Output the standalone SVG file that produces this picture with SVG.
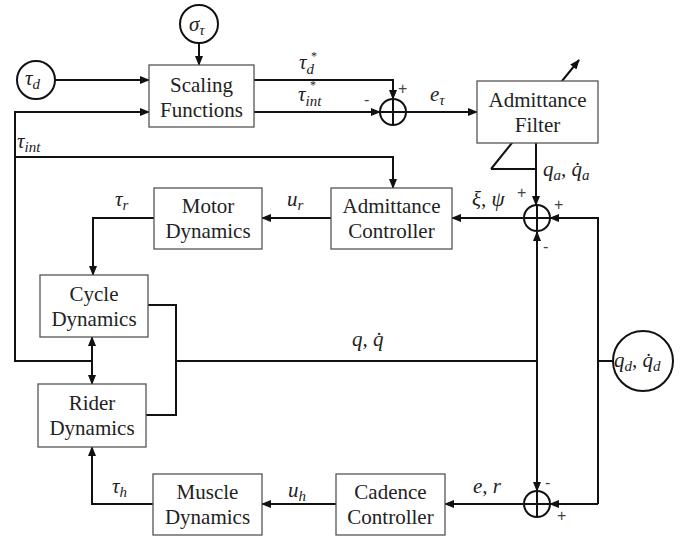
<svg xmlns="http://www.w3.org/2000/svg" width="699" height="540" viewBox="0 0 699 540">
<defs>
<marker id="ah" markerWidth="10" markerHeight="8" refX="9" refY="4" orient="auto" markerUnits="userSpaceOnUse">
<path d="M0,0 L10,4 L0,8 Z" fill="#111"/>
</marker>
<style>
.box{fill:#fff;stroke:#555;stroke-width:1.3}
.lbl{font-family:"Liberation Serif","Times New Roman",serif;font-size:21px;fill:#222;text-anchor:middle}
.m{font-family:"Liberation Serif","Times New Roman",serif;font-style:italic;font-size:21px;fill:#222}
.s{font-size:15px}
.st{font-family:"Liberation Serif","Times New Roman",serif;font-size:12px;fill:#222}
.pm{font-family:"Liberation Sans",Arial,sans-serif;font-size:16px;fill:#444}
.ln{fill:none;stroke:#111;stroke-width:2}
.arr{fill:none;stroke:#111;stroke-width:2;marker-end:url(#ah)}
.circ{fill:#fff;stroke:#111;stroke-width:2}
</style>
</defs>
<rect width="699" height="540" fill="#fff"/>
<g id="connectors">
<path class="arr" d="M199,43 L199,65"/>
<path class="arr" d="M55,80 L149,80"/>
<path class="arr" d="M254,80 L393,80 L393,99"/>
<path class="arr" d="M254,112 L380,112"/>
<path class="arr" d="M406,112 L477,112"/>
<path class="arr" d="M491,169 L579,60"/>
<path class="ln" d="M491,169 L536,169"/>
<path class="arr" d="M536,143 L536,205"/>
<path class="arr" d="M523,218 L452,218"/>
<path class="arr" d="M598,504 L598,218 L550,218"/>
<path class="ln" d="M598,361 L613,361"/>
<path class="arr" d="M598,504 L550,504"/>
<path class="arr" d="M537,361 L537,232"/>
<path class="arr" d="M537,361 L537,491"/>
<path class="ln" d="M176,361 L537,361"/>
<path class="ln" d="M148,305 L176,305 L176,415 L146,415"/>
<path class="arr" d="M92,361 L92,337"/>
<path class="arr" d="M92,361 L92,384"/>
<path class="arr" d="M92,361 L15,361 L15,112 L149,112"/>
<path class="arr" d="M15,157 L393,157 L393,188"/>
<path class="arr" d="M331,218 L262,218"/>
<path class="arr" d="M154,218 L93,218 L93,275"/>
<path class="arr" d="M523,504 L445,504"/>
<path class="arr" d="M336,504 L262,504"/>
<path class="arr" d="M153,504 L92,504 L92,447"/>
</g>
<g id="sigma">
<circle class="circ" cx="199" cy="24" r="19"/>
<text class="m" x="189" y="31">σ<tspan class="s" dy="4">τ</tspan></text>
</g>
<g id="tau_d">
<circle class="circ" cx="36" cy="80" r="19"/>
<text class="m" x="25" y="85">τ<tspan class="s" dy="4">d</tspan></text>
</g>
<g id="scaling">
<rect class="box" x="149" y="65" width="105" height="62"/>
<text class="lbl" x="201.5" y="92">Scaling</text>
<text class="lbl" x="201.5" y="117">Functions</text>
</g>
<g id="sum1">
<circle class="circ" cx="393" cy="112" r="13"/>
<path class="ln" d="M380,112 L406,112 M393,99 L393,125"/>
<text class="pm" x="364" y="105">-</text>
<text class="pm" x="398" y="94">+</text>
</g>
<g id="admittance_filter">
<rect class="box" x="477" y="81" width="121" height="62"/>
<text class="lbl" x="537.5" y="107">Admittance</text>
<text class="lbl" x="537.5" y="132">Filter</text>
</g>
<g id="sum2">
<circle class="circ" cx="537" cy="218" r="13"/>
<path class="ln" d="M524,218 L550,218 M537,205 L537,231"/>
<text class="pm" x="517" y="198">+</text>
<text class="pm" x="554" y="210">+</text>
<text class="pm" x="543" y="252">-</text>
</g>
<g id="admittance_controller">
<rect class="box" x="331" y="188" width="121" height="61"/>
<text class="lbl" x="391.5" y="213">Admittance</text>
<text class="lbl" x="391.5" y="238">Controller</text>
</g>
<g id="motor">
<rect class="box" x="154" y="188" width="108" height="61"/>
<text class="lbl" x="208" y="213">Motor</text>
<text class="lbl" x="208" y="238">Dynamics</text>
</g>
<g id="cycle">
<rect class="box" x="40" y="275" width="108" height="62"/>
<text class="lbl" x="94" y="301">Cycle</text>
<text class="lbl" x="94" y="326">Dynamics</text>
</g>
<g id="rider">
<rect class="box" x="38" y="384" width="108" height="63"/>
<text class="lbl" x="92" y="410">Rider</text>
<text class="lbl" x="92" y="435">Dynamics</text>
</g>
<g id="muscle">
<rect class="box" x="153" y="474" width="109" height="61"/>
<text class="lbl" x="207.5" y="499">Muscle</text>
<text class="lbl" x="207.5" y="524">Dynamics</text>
</g>
<g id="cadence">
<rect class="box" x="336" y="474" width="109" height="61"/>
<text class="lbl" x="390.5" y="499">Cadence</text>
<text class="lbl" x="390.5" y="524">Controller</text>
</g>
<g id="sum3">
<circle class="circ" cx="537" cy="504" r="13"/>
<path class="ln" d="M524,504 L550,504 M537,491 L537,517"/>
<text class="pm" x="545" y="488">-</text>
<text class="pm" x="557" y="521">+</text>
</g>
<g id="qd">
<circle class="circ" cx="643" cy="361" r="30"/>
<text class="m" x="614" y="367">q<tspan class="s" dy="4">d</tspan><tspan dy="-4">, q̇</tspan><tspan class="s" dy="4">d</tspan></text>
</g>
<g id="labels">
<text class="m" x="299" y="69">τ<tspan class="s" dy="5">d</tspan></text>
<text class="st" x="311" y="60">*</text>
<text class="m" x="298" y="101">τ<tspan class="s" dy="5">int</tspan></text>
<text class="st" x="310" y="89">*</text>
<text class="m" x="430" y="101">e<tspan class="s" dy="4">τ</tspan></text>
<text class="m" x="17" y="148">τ<tspan class="s" dy="4">int</tspan></text>
<text class="m" x="543" y="176">q<tspan class="s" dy="4">a</tspan><tspan dy="-4">, q̇</tspan><tspan class="s" dy="4">a</tspan></text>
<text class="m" x="472" y="206">ξ, ψ</text>
<text class="m" x="287" y="206">u<tspan class="s" dy="4">r</tspan></text>
<text class="m" x="115" y="206">τ<tspan class="s" dy="4">r</tspan></text>
<text class="m" x="352" y="346">q, q̇</text>
<text class="m" x="288" y="497">u<tspan class="s" dy="4">h</tspan></text>
<text class="m" x="112" y="493">τ<tspan class="s" dy="4">h</tspan></text>
<text class="m" x="473" y="493">e, r</text>
</g>
</svg>
